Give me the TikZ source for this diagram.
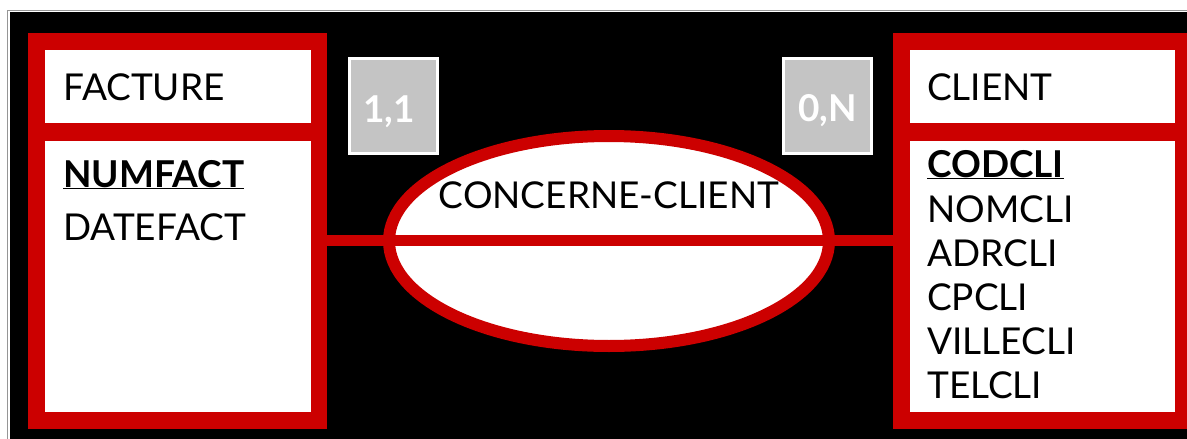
\documentclass[tikz,border=0pt]{standalone}
\usepackage{fontspec}
\setmainfont{Lato}
\usetikzlibrary{shapes.geometric}
\definecolor{erred}{RGB}{204,0,0}
\definecolor{cardgray}{RGB}{196,196,196}
\definecolor{framegray}{RGB}{150,150,150}
\tikzset{
  redframe/.style={fill=erred, draw=none, inner sep=0pt, anchor=north west},
  whitebox/.style={fill=white, draw=none, inner sep=0pt, anchor=north west},
  txt/.style={anchor=base west, inner sep=0pt, font=\fontsize{37}{42}\selectfont, text=black},
  cardbox/.style={fill=cardgray, draw=white, line width=2.5pt, minimum width=88pt, minimum height=95pt, inner sep=0pt},
  cardtxt/.style={anchor=base, inner sep=0pt, font=\fontsize{37}{42}\selectfont\bfseries, text=white},
  relation/.style={ellipse, fill=white, draw=erred, line width=12pt, minimum width=440pt, minimum height=210pt, inner sep=0pt},
  link/.style={draw=erred, line width=11pt}
}
\begin{document}
\begin{tikzpicture}[x=1pt,y=-1pt]
\useasboundingbox (0,0) rectangle (1187,439);
\clip (0,0) rectangle (1187,439);
\fill[white] (0,0) rectangle (1187,439);
\fill[black] (9.5,12) rectangle (1200,450);
\draw[framegray, line width=1pt] (7.5,450) -- (7.5,10) -- (1200,10);

% FACTURE entity
\node[redframe, minimum width=299pt, minimum height=396pt] (facture) at (28,33) {};
\node[whitebox, minimum width=266pt, minimum height=73pt] (factureTitle) at (45,50) {};
\node[whitebox, minimum width=266pt, minimum height=271pt] (factureBody) at (45,141) {};
\node[txt] (tFacture) at (63,100) {FACTURE};
\node[txt] (aNumfact) at (63,187) {\bfseries\underline{NUMFACT}};
\node[txt] (aDatefact) at (63,240) {DATEFACT};

% CLIENT entity
\node[redframe, minimum width=299pt, minimum height=396pt] (client) at (893,33) {};
\node[whitebox, minimum width=265pt, minimum height=73pt] (clientTitle) at (910,50) {};
\node[whitebox, minimum width=265pt, minimum height=271pt] (clientBody) at (910,141) {};
\node[txt] (tClient) at (927,100) {CLIENT};
\node[txt] (aCodcli) at (927,177) {\bfseries\underline{CODCLI}};
\node[txt] (aNomcli) at (927,222) {NOMCLI};
\node[txt] (aAdrcli) at (927,266) {ADRCLI};
\node[txt] (aCpcli) at (927,310) {CPCLI};
\node[txt] (aVillecli) at (927,354) {VILLECLI};
\node[txt] (aTelcli) at (927,398) {TELCLI};

% relation
\node[relation] (rel) at (609,241) {};
\draw[link] (facture.east |- 0,240) -- (client.west |- 0,240);
\node[txt, anchor=base] (tRel) at (609,208) {CONCERNE-CLIENT};

% cardinalities
\node[cardbox] (c11) at (393.5,106) {};
\node[cardtxt] (c11t) at (389,122) {1,1};
\node[cardbox] (c0n) at (827.5,106) {};
\node[cardtxt] (c0nt) at (827.5,121) {0,N};
\end{tikzpicture}
\end{document}
